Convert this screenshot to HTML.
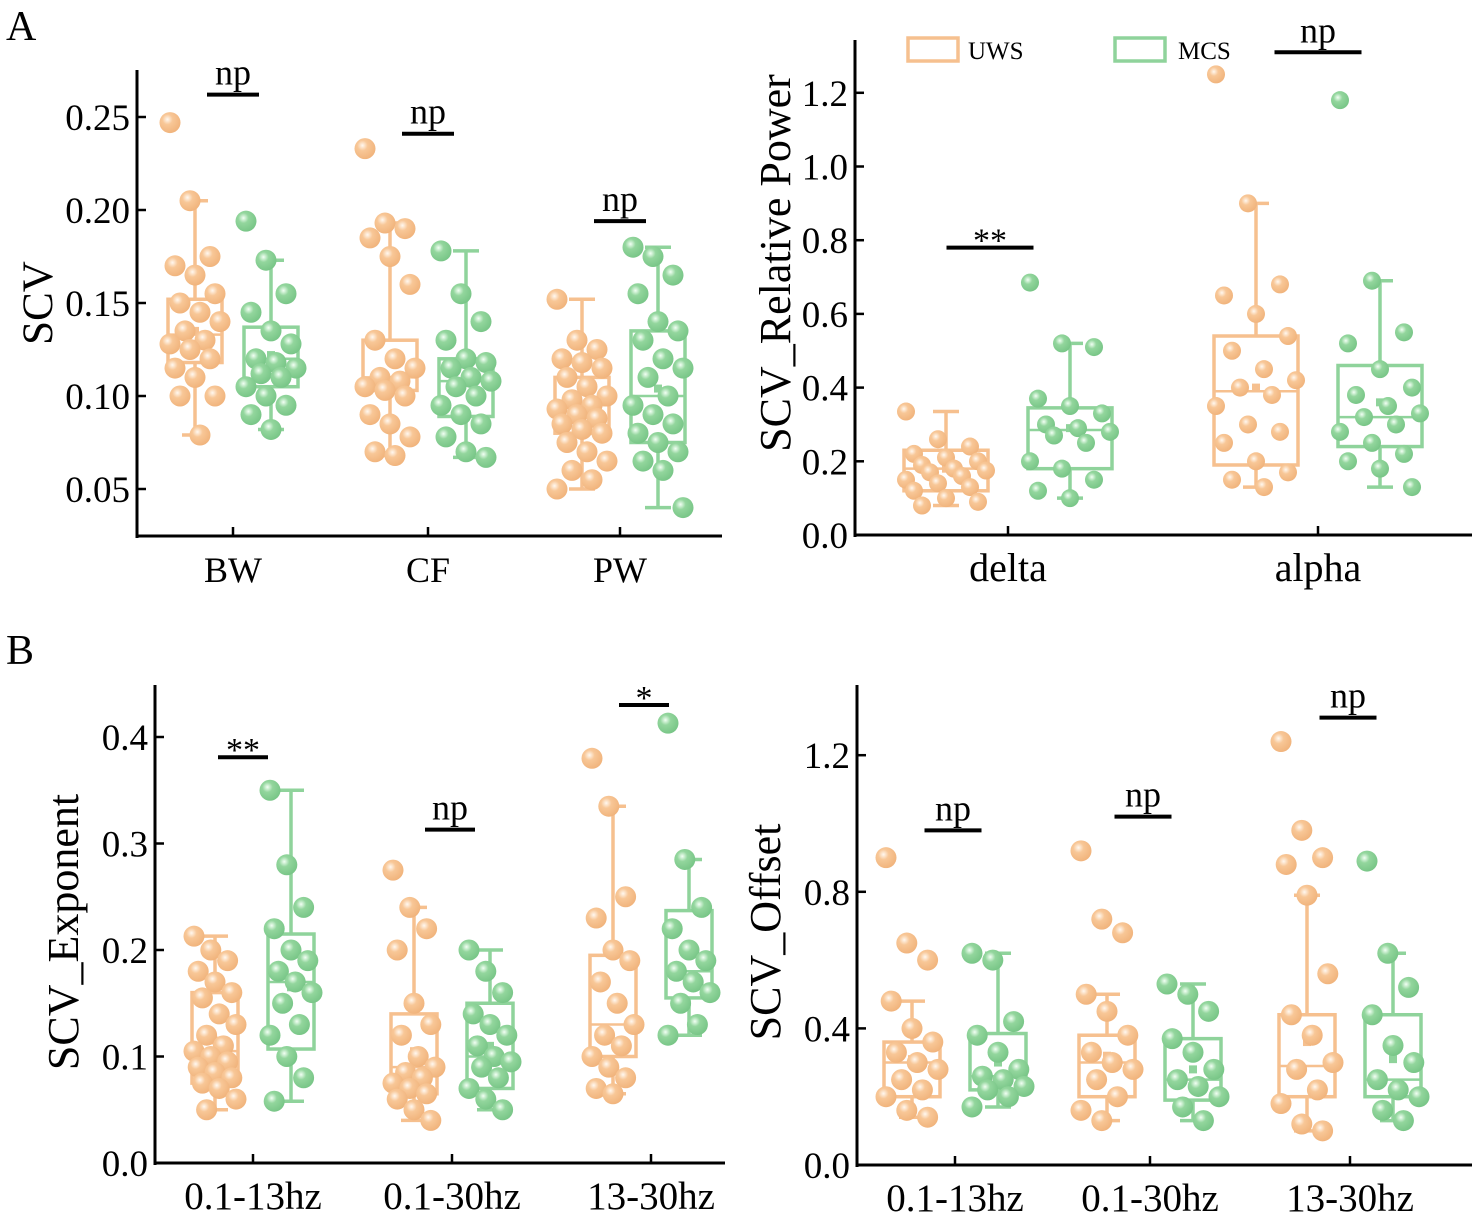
<!DOCTYPE html>
<html><head><meta charset="utf-8">
<style>
html,body{margin:0;padding:0;background:#fff;}
svg{display:block;font-family:"Liberation Serif",serif;}
</style></head>
<body>
<svg id="fig" width="1477" height="1220" viewBox="0 0 1477 1220">
<defs>
<radialGradient id="gO" cx="0.38" cy="0.35" r="0.7"><stop offset="0" stop-color="#fff8f0"/><stop offset="0.35" stop-color="#f8c797"/><stop offset="1" stop-color="#f0b27a"/></radialGradient>
<radialGradient id="gG" cx="0.38" cy="0.35" r="0.7"><stop offset="0" stop-color="#f2fff4"/><stop offset="0.35" stop-color="#93d69d"/><stop offset="1" stop-color="#76c485"/></radialGradient>
</defs>
<text x="6" y="40" font-size="42">A</text>
<text x="6" y="664" font-size="42">B</text>
<g>
<rect x="908" y="38" width="50" height="23" fill="none" stroke="#f6c08f" stroke-width="3.5"/>
<text x="968" y="59" font-size="25">UWS</text>
<rect x="1115" y="38" width="50" height="23" fill="none" stroke="#8fd39b" stroke-width="3.5"/>
<text x="1178" y="59" font-size="25">MCS</text>
</g>
</svg>
<script>
// ---------- Panel A-left data ----------
const aL_categories = ["BW","CF","PW"];
const aL_ticks = [0.05,0.10,0.15,0.20,0.25];
const aL_tickLabels = ["0.05","0.10","0.15","0.20","0.25"];
const aL_uwsStats = [[0.079,0.118,0.133,0.152,0.205,0.135],[0.068,0.103,0.110,0.130,0.193,0.120],[0.050,0.080,0.095,0.110,0.152,0.094]];
const aL_mcsStats = [[0.082,0.105,0.120,0.137,0.173,0.122],[0.067,0.089,0.108,0.120,0.178,0.108],[0.040,0.075,0.100,0.135,0.180,0.104]];
const aL_uwsPoints = [
 [0.247,0.205,0.175,0.170,0.165,0.155,0.150,0.145,0.140,0.135,0.130,0.128,0.125,0.120,0.115,0.110,0.100,0.100,0.079],
 [0.233,0.193,0.190,0.185,0.175,0.160,0.130,0.120,0.115,0.110,0.108,0.105,0.103,0.100,0.090,0.085,0.078,0.070,0.068],
 [0.152,0.130,0.125,0.120,0.118,0.115,0.110,0.105,0.100,0.098,0.095,0.093,0.090,0.088,0.085,0.082,0.080,0.075,0.070,0.065,0.060,0.055,0.050]];
const aL_mcsPoints = [
 [0.194,0.173,0.155,0.145,0.135,0.128,0.120,0.118,0.115,0.112,0.110,0.105,0.100,0.095,0.090,0.082],
 [0.178,0.155,0.140,0.130,0.120,0.118,0.115,0.110,0.108,0.105,0.100,0.095,0.090,0.085,0.078,0.070,0.067],
 [0.180,0.175,0.165,0.155,0.140,0.135,0.130,0.120,0.115,0.110,0.100,0.095,0.090,0.085,0.080,0.075,0.070,0.065,0.060,0.040]];
const aL_sigLabels = ["np","np","np"];
const aL_sigValues = [0.262,0.241,0.194];

// ---------- Panel A-right data ----------
const aR_categories = ["delta","alpha"];
const aR_ticks = [0,0.2,0.4,0.6,0.8,1.0,1.2];
const aR_tickLabels = ["0.0","0.2","0.4","0.6","0.8","1.0","1.2"];
const aR_uwsStats = [[0.08,0.12,0.18,0.23,0.335,0.18],[0.13,0.19,0.39,0.54,0.90,0.40]];
const aR_mcsStats = [[0.10,0.18,0.285,0.345,0.52,0.29],[0.13,0.24,0.32,0.46,0.69,0.36]];
const aR_uwsPoints = [
 [0.335,0.26,0.24,0.22,0.21,0.20,0.19,0.18,0.175,0.17,0.16,0.15,0.14,0.13,0.12,0.10,0.09,0.08],
 [1.25,0.90,0.68,0.65,0.60,0.54,0.50,0.45,0.42,0.40,0.38,0.35,0.30,0.28,0.25,0.20,0.17,0.15,0.13]];
const aR_mcsPoints = [
 [0.685,0.52,0.51,0.37,0.35,0.33,0.30,0.29,0.28,0.27,0.25,0.20,0.18,0.15,0.12,0.10],
 [1.18,0.69,0.55,0.52,0.45,0.40,0.38,0.35,0.33,0.32,0.30,0.28,0.25,0.22,0.20,0.18,0.13]];
const aR_sigLabels = ["**","np"];
const aR_sigValues = [0.78,1.31];

// ---------- Panel B-left data ----------
const bL_categories = ["0.1-13hz","0.1-30hz","13-30hz"];
const bL_ticks = [0,0.1,0.2,0.3,0.4];
const bL_tickLabels = ["0.0","0.1","0.2","0.3","0.4"];
const bL_uwsStats = [[0.05,0.075,0.105,0.16,0.213,0.115],[0.04,0.065,0.09,0.14,0.24,0.105],[0.065,0.10,0.13,0.195,0.335,0.15]];
const bL_mcsStats = [[0.058,0.107,0.17,0.215,0.35,0.165],[0.05,0.07,0.10,0.15,0.20,0.11],[0.12,0.155,0.18,0.237,0.285,0.20]];
const bL_uwsPoints = [
 [0.213,0.20,0.19,0.18,0.17,0.16,0.155,0.14,0.13,0.12,0.11,0.105,0.10,0.095,0.09,0.085,0.08,0.075,0.07,0.06,0.05],
 [0.275,0.24,0.22,0.20,0.15,0.13,0.12,0.10,0.09,0.085,0.08,0.075,0.07,0.065,0.06,0.05,0.04],
 [0.38,0.335,0.25,0.23,0.20,0.19,0.17,0.15,0.13,0.12,0.11,0.10,0.09,0.08,0.07,0.065]];
const bL_mcsPoints = [
 [0.35,0.28,0.24,0.22,0.20,0.19,0.18,0.17,0.16,0.15,0.13,0.12,0.10,0.08,0.058],
 [0.20,0.18,0.16,0.14,0.13,0.12,0.11,0.10,0.095,0.09,0.08,0.07,0.06,0.05],
 [0.413,0.285,0.24,0.22,0.20,0.19,0.18,0.17,0.16,0.15,0.13,0.12]];
const bL_sigLabels = ["**","np","*"];
const bL_sigValues = [0.381,0.313,0.430];

// ---------- Panel B-right data ----------
const bR_categories = ["0.1-13hz","0.1-30hz","13-30hz"];
const bR_ticks = [0,0.4,0.8,1.2];
const bR_tickLabels = ["0.0","0.4","0.8","1.2"];
const bR_uwsStats = [[0.14,0.20,0.30,0.36,0.48,0.31],[0.13,0.20,0.30,0.38,0.50,0.32],[0.10,0.20,0.29,0.44,0.79,0.36]];
const bR_mcsStats = [[0.17,0.22,0.26,0.385,0.62,0.30],[0.13,0.19,0.25,0.37,0.53,0.28],[0.13,0.20,0.25,0.44,0.62,0.31]];
const bR_uwsPoints = [
 [0.90,0.65,0.60,0.48,0.40,0.36,0.33,0.30,0.28,0.25,0.22,0.20,0.16,0.14],
 [0.92,0.72,0.68,0.50,0.45,0.38,0.33,0.30,0.28,0.25,0.20,0.16,0.13],
 [1.24,0.98,0.90,0.88,0.79,0.56,0.44,0.38,0.30,0.28,0.22,0.18,0.12,0.10]];
const bR_mcsPoints = [
 [0.62,0.60,0.42,0.38,0.33,0.28,0.26,0.25,0.23,0.22,0.20,0.17],
 [0.53,0.50,0.45,0.37,0.33,0.28,0.25,0.23,0.20,0.17,0.13],
 [0.89,0.62,0.52,0.44,0.35,0.30,0.25,0.22,0.20,0.16,0.13]];
const bR_sigLabels = ["np","np","np"];
const bR_sigValues = [0.98,1.02,1.31];

const NS="http://www.w3.org/2000/svg";
const svg=document.getElementById('fig');
const OR="#f6c08f", GR="#8fd39b";
function el(tag,attrs,parent){const e=document.createElementNS(NS,tag);for(const k in attrs)e.setAttribute(k,attrs[k]);(parent||svg).appendChild(e);return e;}

function panel(cfg){
 const g=el('g',{});
 
 
 const y=v=>cfg.y0-(v-cfg.vmin)*cfg.ppu;
 const xc=i=>cfg.cx[i];
 const base=cfg.base!==undefined?cfg.base:cfg.y0;
 const ax=el('line',{x1:cfg.left,y1:cfg.top,x2:cfg.left,y2:base+2,stroke:'#000','stroke-width':3},g);
 
 
 const bx=el('line',{x1:cfg.left-1.5,y1:base,x2:cfg.right,y2:base,stroke:'#000','stroke-width':3},g);
 
 
 cfg.ticks.forEach((t,i)=>{
  el('line',{x1:cfg.left,y1:y(t),x2:cfg.left+9,y2:y(t),stroke:'#000','stroke-width':2.5},g);
  const tl=el('text',{x:cfg.left-7,y:y(t)+13,'font-size':37,'text-anchor':'end'},g);
  tl.textContent=cfg.tickLabels[i];
  
  
 });
 cfg.categories.forEach((c,i)=>{
  el('line',{x1:xc(i),y1:base,x2:xc(i),y2:base-9,stroke:'#000','stroke-width':2.5},g);
  const tl=el('text',{x:xc(i),y:base+46,'font-size':cfg.catFont||36,'text-anchor':'middle'},g);
  tl.textContent=c;
  
  
 });
 const yt=el('text',{x:0,y:0,'font-size':cfg.titleFont||43,'text-anchor':'middle',transform:`translate(${cfg.titleX},${cfg.titleY}) rotate(-90)`},g);
 yt.textContent=cfg.title;
 
 
 const groups=[[cfg.uwsStats,cfg.uwsPoints,-cfg.off,OR,'url(#gO)','uws'],[cfg.mcsStats,cfg.mcsPoints,cfg.off,GR,'url(#gG)','mcs']];
 cfg.categories.forEach((c,i)=>{
  groups.forEach(([stats,pts,dx,col,grad,nm])=>{
   const s=stats[i], cx=xc(i)+dx, w=cfg.bw;
   const bg=el('g',{},g);
   
   
   el('line',{x1:cx,y1:y(s[0]),x2:cx,y2:y(s[1]),stroke:col,'stroke-width':3.5},bg);
   el('line',{x1:cx,y1:y(s[3]),x2:cx,y2:y(s[4]),stroke:col,'stroke-width':3.5},bg);
   el('line',{x1:cx-13,y1:y(s[0]),x2:cx+13,y2:y(s[0]),stroke:col,'stroke-width':3.5},bg);
   el('line',{x1:cx-13,y1:y(s[4]),x2:cx+13,y2:y(s[4]),stroke:col,'stroke-width':3.5},bg);
   el('rect',{x:cx-w/2,y:y(s[3]),width:w,height:y(s[1])-y(s[3]),fill:'none',stroke:col,'stroke-width':3.5},bg);
   el('line',{x1:cx-w/2,y1:y(s[2]),x2:cx+w/2,y2:y(s[2]),stroke:col,'stroke-width':2.5},bg);
   el('rect',{x:cx-4,y:y(s[5])-4,width:8,height:8,fill:col},bg);
   pts[i].forEach((v,k)=>{
    const j=((k*37)%11-5)/5*(w/2-2);
    const p=el('circle',{cx:cx+j,cy:y(v),r:cfg.r||10.5,fill:grad},bg);
    
    
   });
  });
  const sy=y(cfg.sigValues[i]), sx=cfg.sigX?cfg.sigX[i]:xc(i);
  const sl=el('line',{x1:sx-cfg.sigW/2,y1:sy,x2:sx+cfg.sigW/2,y2:sy,stroke:'#000','stroke-width':4},g);
  
  
  const isNp=cfg.sigLabels[i]=='np';
  const st=el('text',{x:sx,y:sy-(isNp?10:-4),'font-size':isNp?36:34,'text-anchor':'middle'},g);
  st.textContent=cfg.sigLabels[i];
  
  
 });
}
panel({name:'panel-a-left',left:137,top:70,right:722,y0:582,base:536,vmin:0,ppu:1860,cx:[233,428,620],off:38,bw:54,
 categories:aL_categories,ticks:aL_ticks,tickLabels:aL_tickLabels,uwsStats:aL_uwsStats,mcsStats:aL_mcsStats,
 uwsPoints:aL_uwsPoints,mcsPoints:aL_mcsPoints,sigLabels:aL_sigLabels,sigValues:aL_sigValues,sigW:52,
 title:'SCV',titleX:52,titleY:303,catFont:36});
panel({name:'panel-a-right',left:855,top:40,right:1472,y0:535,vmin:0,ppu:368.5,cx:[1008,1318],off:62,bw:84,
 categories:aR_categories,ticks:aR_ticks,tickLabels:aR_tickLabels,uwsStats:aR_uwsStats,mcsStats:aR_mcsStats,
 uwsPoints:aR_uwsPoints,mcsPoints:aR_mcsPoints,sigLabels:aR_sigLabels,sigValues:aR_sigValues,sigW:87,sigX:[990,1318],
 title:'SCV_Relative Power',titleX:790,titleY:263,r:9,catFont:40,titleFont:44});
panel({name:'panel-b-left',left:155,top:685,right:725,y0:1163,vmin:0,ppu:1065,cx:[253,452,651],off:38,bw:46,
 categories:bL_categories,ticks:bL_ticks,tickLabels:bL_tickLabels,uwsStats:bL_uwsStats,mcsStats:bL_mcsStats,
 uwsPoints:bL_uwsPoints,mcsPoints:bL_mcsPoints,sigLabels:bL_sigLabels,sigValues:bL_sigValues,sigW:50,sigX:[243,450,644],
 title:'SCV_Exponent',titleX:78,titleY:932,catFont:39,titleFont:44});
panel({name:'panel-b-right',left:857,top:685,right:1472,y0:1165,vmin:0,ppu:341.5,cx:[955,1150,1350],off:43,bw:56,
 categories:bR_categories,ticks:bR_ticks,tickLabels:bR_tickLabels,uwsStats:bR_uwsStats,mcsStats:bR_mcsStats,
 uwsPoints:bR_uwsPoints,mcsPoints:bR_mcsPoints,sigLabels:bR_sigLabels,sigValues:bR_sigValues,sigW:57,sigX:[953,1143,1348],
 title:'SCV_Offset',titleX:780,titleY:932,catFont:39,titleFont:44});
</script>
</body></html>
